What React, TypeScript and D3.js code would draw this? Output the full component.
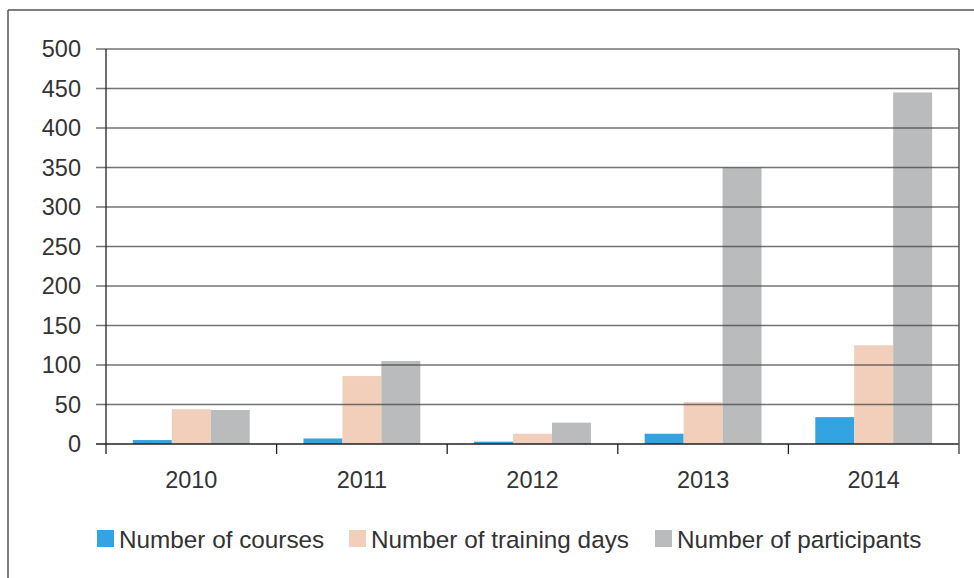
import React from "react";
import * as d3 from "d3";

const years = ["2010", "2011", "2012", "2013", "2014"];
const courses = [5, 7, 3, 13, 34];
const trainingDays = [44, 86, 13, 53, 125];
const participants = [43, 105, 27, 350, 445];
const seriesNames = ["Number of courses", "Number of training days", "Number of participants"];
const seriesColors = ["#33a3e2", "#f1cfbb", "#babbbd"];
const yTicks = [0, 50, 100, 150, 200, 250, 300, 350, 400, 450, 500];

export default function App() {
  const W = 974, H = 578;
  const left = 106, right = 959, top = 49, bottom = 444;
  const x = d3.scaleBand<string>().domain(years).range([left, right]).paddingInner(0).paddingOuter(0);
  const inner = d3.scaleBand<number>().domain([0, 1, 2]).range([0, x.bandwidth()]).paddingInner(0).paddingOuter(0.69);
  const y = d3.scaleLinear().domain([0, 500]).range([bottom, top]);
  const series = [courses, trainingDays, participants];
  const font = "'Liberation Sans', Arial, sans-serif";
  const legendX = [97, 349, 655];
  return (
    <svg width={W} height={H} style={{ position: "absolute", left: 0, top: 0 }}>
      <rect x={0} y={0} width={W} height={H} fill="#fff" />
      <line x1={8} y1={10} x2={W} y2={10} stroke="#555" strokeWidth={1.5} />
      <line x1={8} y1={10} x2={8} y2={H} stroke="#555" strokeWidth={1.5} />
      {series.map((vals, si) =>
        vals.map((v, i) => (
          <rect key={si + "-" + i} x={(x(years[i]) as number) + (inner(si) as number)} y={y(v)}
            width={inner.bandwidth()} height={bottom - y(v)} fill={seriesColors[si]} />
        ))
      )}
      {yTicks.map((t) => (
        <g key={t}>
          <line x1={96} x2={right} y1={y(t)} y2={y(t)} stroke={t === 0 ? "#222" : "#444"} strokeOpacity={t === 0 ? 1 : 0.75} strokeWidth={1.3} />
          <text x={81} y={y(t)} dy="0.36em" textAnchor="end" fontFamily={font} fontSize={23.5} fill="#333">{t}</text>
        </g>
      ))}
      <line x1={left} x2={left} y1={top} y2={454} stroke="#222" strokeWidth={1.3} />
      <line x1={right} x2={right} y1={top} y2={454} stroke="#555" strokeWidth={1.5} />
      {years.map((yr, i) => (
        <g key={yr}>
          {i > 0 && <line x1={x(yr)} x2={x(yr)} y1={bottom} y2={454} stroke="#222" strokeWidth={1.3} />}
          <text x={(x(yr) as number) + x.bandwidth() / 2} y={479.5} dy="0.36em" textAnchor="middle" fontFamily={font} fontSize={23.5} fill="#333">{yr}</text>
        </g>
      ))}
      {seriesNames.map((n, i) => (
        <g key={n}>
          <rect x={legendX[i]} y={530} width={17} height={17} fill={seriesColors[i]} />
          <text x={legendX[i] + 22} y={539} dy="0.36em" fontFamily={font} fontSize={24.3} fill="#333">{n}</text>
        </g>
      ))}
    </svg>
  );
}
